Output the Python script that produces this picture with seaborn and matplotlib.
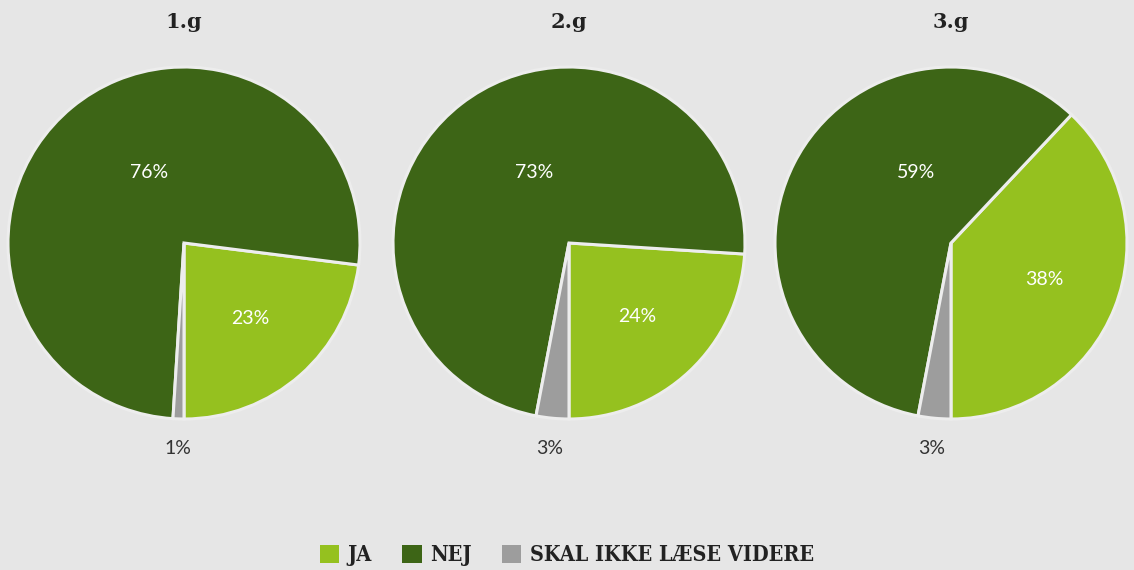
import matplotlib.pyplot as plt
import numpy as np
import seaborn as sns
from matplotlib.patches import Patch

# data
groups = ["1.g", "2.g", "3.g"]
categories = ["JA", "NEJ", "SKAL IKKE LÆSE VIDERE"]
ja = [23, 24, 38]
nej = [76, 73, 59]
skal_ikke = [1, 3, 3]

colors = ["#95c11f", "#3d6516", "#9d9d9d"]
bg = "#e6e6e6"

sns.set_theme(style="white")
plt.rcParams["font.family"] = ["Lato", "DejaVu Sans"]

W, H = 1134, 570
fig = plt.figure(figsize=(W / 100, H / 100), dpi=100)
fig.patch.set_facecolor(bg)

centers = [184, 569, 951]
cy = 243
r = 176

for i, name in enumerate(groups):
    cx = centers[i]
    ax = fig.add_axes([(cx - r) / W, (H - cy - r) / H, 2 * r / W, 2 * r / H])
    ax.set_facecolor("none")
    values = [ja[i], nej[i], skal_ikke[i]]
    wedges, _ = ax.pie(
        values,
        colors=colors,
        startangle=-90,
        counterclock=True,
        radius=1,
        wedgeprops=dict(edgecolor="#ededed", linewidth=2.2),
    )
    ax.set_xlim(-1, 1)
    ax.set_ylim(-1, 1)
    ax.set_aspect("equal")
    ax.axis("off")

    for j, w in enumerate(wedges):
        mid = np.deg2rad((w.theta1 + w.theta2) / 2)
        if j == 2:
            x, y, col = 1.17 * np.cos(mid), 1.17 * np.sin(mid), "#333333"
        elif j == 1:
            # big slice: label sits in the upper-left part of the pie
            x, y, col = -0.2, 0.40, "white"
        else:
            x, y, col = 0.57 * np.cos(mid), 0.57 * np.sin(mid), "white"
        ax.text(x, y, f"{values[j]}%", ha="center", va="center", color=col,
                fontsize=14, clip_on=False)

    fig.text(cx / W, 1 - 22 / H, name, ha="center", va="center",
             fontsize=15, fontweight="bold", color="#222222",
             family=["DejaVu Serif"])

handles = [Patch(facecolor=c, edgecolor="none") for c in colors]
leg = fig.legend(handles, categories, loc="center", bbox_to_anchor=(0.5, 1 - 555 / H),
                 ncol=3, frameon=False, handlelength=0.9, handleheight=0.9,
                 handletextpad=0.4, columnspacing=1.4,
                 prop=dict(family="DejaVu Serif", weight="bold", size=15.5,
                           stretch="condensed"))
for t in leg.get_texts():
    t.set_color("#222222")

fig.savefig("out.png", dpi=100, facecolor=bg)
